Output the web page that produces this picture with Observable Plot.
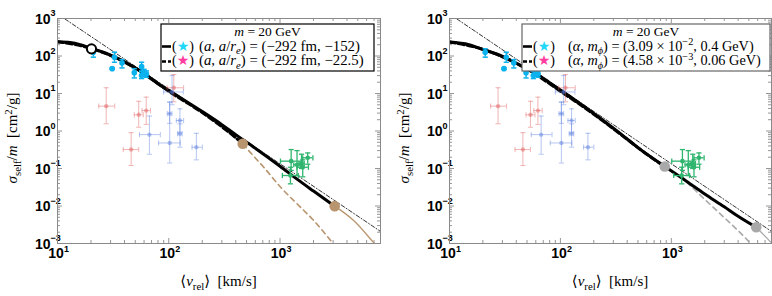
<!DOCTYPE html>
<html><head><meta charset="utf-8">
<script src="https://cdn.jsdelivr.net/npm/d3@7"></script>
<script src="https://cdn.jsdelivr.net/npm/@observablehq/plot@0.6"></script>
<style>
body{margin:0;background:#fff;}
#wrap{position:relative;width:772px;height:296px;overflow:hidden;background:#fff;}
#wrap svg{position:absolute;top:0;overflow:visible;}
</style></head><body><div id="wrap"></div>
<script>
// ---------- axis ticks ----------
const xDecades = [10, 100, 1000];
const xExpLabels = ["1", "2", "3"];
const yDecades = [1e-3, 1e-2, 1e-1, 1, 10, 100, 1000];
const yExpLabels = ["−3", "−2", "−1", "0", "1", "2", "3"];
const minorMantissas = [2, 3, 4, 5, 6, 7, 8, 9];

// ---------- data points ----------
// dwarfs (cyan): v, sigma/m, lower, upper
const dwarfV  = [21, 31, 32.5, 38, 49, 57, 57, 60, 63];
const dwarfS  = [126, 46, 93, 65, 36, 52, 30, 36, 33];
const dwarfLo = [93, 44, 68, 48, 26, 40, 25, 29, 27];
const dwarfHi = [155, 48, 126, 80, 46, 68, 38, 44, 40];

// LSB-like (red): v, s, vlo, vhi, slo, shi
const redV   = [27.4, 53.7, 62.7, 45.9, 111];
const redS   = [4.6, 2.7, 3.5, 0.32, 14.2];
const redVlo = [23.5, 49, 57.6, 39, 96.6];
const redVhi = [32.7, 59, 68.5, 53.7, 136];
const redSlo = [1.56, 1.26, 1.5, 0.12, 6];
const redShi = [14.2, 6.2, 8, 0.9, 32];

// galaxies (blue)
const blueV   = [67, 102, 102, 126, 126, 177, 107];
const blueS   = [0.8, 0.48, 2.9, 1.9, 0.84, 0.37, 11];
const blueVlo = [54.6, 81, 97, 117, 120, 162, 90];
const blueVhi = [84, 127, 107, 136, 132, 200, 135];
const blueSlo = [0.24, 0.14, 1.6, 0.93, 0.37, 0.17, 5];
const blueShi = [2.5, 5.9, 5.9, 3.9, 1.55, 0.87, 30];

// clusters (green)
const greenV   = [1259, 1422, 1600, 1774, 1240, 1560];
const greenS   = [0.157, 0.126, 0.108, 0.193, 0.065, 0.135];
const greenVlo = [1009, 1330, 1420, 1600, 1050, 1480];
const greenVhi = [1580, 1520, 1800, 1975, 1460, 1650];
const greenSlo = [0.089, 0.065, 0.06, 0.13, 0.039, 0.1];
const greenShi = [0.32, 0.30, 0.17, 0.26, 0.108, 0.24];

// ---------- curves, left panel ----------
const lSolidV = [10, 13, 16, 20, 25, 30, 40, 50, 65, 80, 111, 150, 200, 300, 400, 581, 1000, 1422, 2000, 3100];
const lSolidS = [240, 228, 200, 160, 130, 105, 70, 48, 28.5, 18.2, 10, 5.7, 3.3, 1.48, 0.8, 0.37, 0.115, 0.052, 0.025, 0.0099];
const lDashV = [10, 20, 50, 100, 200, 300, 400, 462];
const lDashS = [240, 160, 48, 11.5, 3.1, 1.3, 0.66, 0.455];
const lBrownDashV = [462, 600, 714, 1009, 1500, 2009, 2940, 3050];
const lBrownDashS = [0.455, 0.19, 0.108, 0.032, 0.0098, 0.0041, 0.00108, 0.00095];
const lBrownSolidV = [3100, 4590, 7050, 7400];
const lBrownSolidS = [0.0099, 0.0041, 0.001, 0.00085];
const lMarkV = [462, 3100];
const lMarkS = [0.455, 0.0099];
const openV = [20.2];
const openS = [155];

// ---------- curves, right panel ----------
const rSolidV = [10, 15, 20, 30, 40, 50, 60, 80, 122, 167, 250, 332, 500, 873, 1368, 2000, 3000, 4000, 5820];
const rSolidS = [235, 200, 150, 98, 64, 45, 34, 19.5, 8.3, 4.3, 1.8, 0.95, 0.36, 0.113, 0.046, 0.021, 0.0095, 0.0053, 0.0027];
const rDashV = [10, 20, 50, 100, 200, 400, 600, 873];
const rDashS = [235, 150, 45, 11.5, 2.8, 0.6, 0.24, 0.113];
const rGrayDashV = [873, 1100, 1368, 2000, 3000, 4000, 5300];
const rGrayDashS = [0.113, 0.07, 0.043, 0.015, 0.0049, 0.0022, 0.00095];
const rGraySolidV = [5820, 7350, 8000];
const rGraySolidS = [0.0027, 0.00135, 0.00104];
const rMarkV = [873, 5820];
const rMarkS = [0.113, 0.0027];

// dash-dot reference line (v^-2)
const refV = [10, 8000];
const refS = [1320, 0.0021];

// ---------- colours ----------
const cyan = "#0ab2ee", red = "#e05a5a", blue = "#5b7fe0", green = "#2fb56e";
const brown = "#b8956e", gray = "#a9a9a9", frameCol = "#8a8a8a";

// ---------- helpers ----------
const rows = (V, S) => V.map((v, i) => ({v, s: S[i]}));
const errRows = (V, S, VL, VH, SL, SH) => V.map((v, i) => ({v, s: S[i], vlo: VL ? VL[i] : v, vhi: VH ? VH[i] : v, slo: SL[i], shi: SH[i]}));
const capH = {draw(ctx, size) { const r = Math.sqrt(size / Math.PI); ctx.moveTo(-r, 0); ctx.lineTo(r, 0); }};
const capV = {draw(ctx, size) { const r = Math.sqrt(size / Math.PI); ctx.moveTo(0, -r); ctx.lineTo(0, r); }};

const xMinor = xDecades.flatMap(d => minorMantissas.map(m => m * d)).filter(v => v < 8000);
const yMinor = yDecades.slice(0, -1).flatMap(d => minorMantissas.map(m => m * d));

function errMarks(data, color, op, r, sw, horiz) {
  const o = {stroke: color, strokeOpacity: op, strokeWidth: sw};
  const ms = [
    Plot.ruleX(data, {x: "v", y1: "slo", y2: "shi", ...o}),
    Plot.dot(data, {x: "v", y: "slo", symbol: capH, r: 2.6, fill: "none", ...o}),
    Plot.dot(data, {x: "v", y: "shi", symbol: capH, r: 2.6, fill: "none", ...o})
  ];
  if (horiz) ms.push(
    Plot.ruleY(data, {y: "s", x1: "vlo", x2: "vhi", ...o}),
    Plot.dot(data, {x: "vlo", y: "s", symbol: capV, r: 2.6, fill: "none", ...o}),
    Plot.dot(data, {x: "vhi", y: "s", symbol: capV, r: 2.6, fill: "none", ...o})
  );
  ms.push(Plot.dot(data, {x: "v", y: "s", r, fill: color, fillOpacity: op, stroke: "none"}));
  return ms;
}

function rich(g, x, y, parts, attrs) {
  const t = g.append("text").attr("x", x).attr("y", y).attr("text-anchor", "start");
  for (const k in attrs) t.attr(k, attrs[k]);
  let shift = 0;
  for (const p of parts) {
    const ts = t.append("tspan").text(p.t);
    const target = p.sub ? 3.5 : p.sup ? -5.5 : 0;
    if (target !== shift) { ts.attr("dy", target - shift); shift = target; }
    if (p.sub || p.sup) ts.attr("font-size", p.fs || "0.72em");
    if (p.it) ts.attr("font-style", "italic");
    if (p.fill) ts.attr("fill", p.fill);
    if (p.font) ts.attr("font-family", p.font);
  }
  return t;
}

const W = 386, H = 296, MT = 18, MB = 53;
const serif = "'Liberation Serif', 'DejaVu Serif', serif";
const sans = "'Liberation Sans', Arial, sans-serif";

function panel(cfg) {
  const innerH = H - MT - MB, innerW = W - cfg.mL - cfg.mR;
  const line = (V, S, o) => Plot.line(rows(V, S), {x: "v", y: "s", curve: "monotone-x", clip: true, ...o});
  const tk = {stroke: frameCol, strokeWidth: 0.9};
  const svg = Plot.plot({
    width: W, height: H,
    marginLeft: cfg.mL, marginRight: cfg.mR, marginTop: MT, marginBottom: MB,
    x: {type: "log", domain: [10, 8000], axis: null},
    y: {type: "log", domain: [1e-3, 1e3], axis: null},
    style: {background: "transparent", overflow: "visible"},
    marks: [
      // ticks on all four sides, pointing inward
      Plot.tickX(xDecades, {x: d => d, insetTop: innerH - 5, ...tk}),
      Plot.tickX(xMinor, {x: d => d, insetTop: innerH - 3, ...tk}),
      Plot.tickX(xDecades, {x: d => d, insetBottom: innerH - 5, ...tk}),
      Plot.tickX(xMinor, {x: d => d, insetBottom: innerH - 3, ...tk}),
      Plot.tickY(yDecades, {y: d => d, insetRight: innerW - 5, ...tk}),
      Plot.tickY(yMinor, {y: d => d, insetRight: innerW - 3, ...tk}),
      Plot.tickY(yDecades, {y: d => d, insetLeft: innerW - 5, ...tk}),
      Plot.tickY(yMinor, {y: d => d, insetLeft: innerW - 3, ...tk}),
      // tick labels
      Plot.text(xDecades, {x: d => d, text: () => "10", frameAnchor: "bottom", dy: 14, dx: -1.5, fontSize: 14, fontWeight: "bold", fontFamily: sans, fill: "#000"}),
      Plot.text(xDecades, {x: d => d, text: (d, i) => xExpLabels[i], frameAnchor: "bottom", dy: 8, dx: 6.5, textAnchor: "start", fontSize: 9, fontWeight: "bold", fontFamily: sans, fill: "#000"}),
      Plot.text(yDecades, {y: d => d, text: () => "10", frameAnchor: "left", dx: -7, dy: 1, textAnchor: "end", fontSize: 14, fontWeight: "bold", fontFamily: sans, fill: "#000"}),
      Plot.text(yDecades, {y: d => d, text: (d, i) => yExpLabels[i], frameAnchor: "left", dx: -7, dy: -5, textAnchor: "start", fontSize: 9, fontWeight: "bold", fontFamily: sans, fill: "#000"}),
      // reference line
      line(refV, refS, {stroke: "#000", strokeWidth: 0.8, strokeDasharray: "4,2,1,2", curve: "linear"}),
      // model curves
      line(cfg.tailDashV, cfg.tailDashS, {stroke: cfg.tailCol, strokeWidth: 1.6, strokeDasharray: "5,4"}),
      line(cfg.tailSolidV, cfg.tailSolidS, {stroke: cfg.tailCol, strokeWidth: 1.3}),
      line(cfg.dashV, cfg.dashS, {stroke: "#000", strokeWidth: 3, strokeDasharray: "6,3"}),
      line(cfg.solidV, cfg.solidS, {stroke: "#000", strokeWidth: 3}),
      // data
      ...errMarks(errRows(redV, redS, redVlo, redVhi, redSlo, redShi), red, 0.45, 2.2, 1, true),
      ...errMarks(errRows(blueV, blueS, blueVlo, blueVhi, blueSlo, blueShi), blue, 0.45, 2.2, 1, true),
      ...errMarks(errRows(dwarfV, dwarfS, null, null, dwarfLo, dwarfHi), cyan, 1, 2.8, 1.5, false),
      ...errMarks(errRows(greenV, greenS, greenVlo, greenVhi, greenSlo, greenShi), green, 1, 2.3, 1.3, true),
      // markers at curve transitions
      Plot.dot(rows(cfg.markV, cfg.markS), {x: "v", y: "s", r: 5.3, fill: cfg.tailCol, stroke: "none"}),
      ...(cfg.open ? [Plot.dot(rows(openV, openS), {x: "v", y: "s", r: 4.6, fill: "#fff", stroke: "#000", strokeWidth: 2})] : []),
      Plot.frame({stroke: frameCol, strokeWidth: 1})
    ]
  });
  svg.style.left = cfg.left + "px";
  const g = d3.select(svg);
  const cx = cfg.mL + innerW / 2;
  // x-axis title
  rich(g, cx, 286, [{t: "⟨"}, {t: "v", it: true}, {t: "rel", sub: true}, {t: "⟩  [km/s]"}],
       {"text-anchor": "middle", "font-family": serif, "font-size": 15, fill: "#000"});
  // y-axis title
  rich(g, 0, 0, [{t: "σ", it: true}, {t: "self", sub: true}, {t: "/"}, {t: "m", it: true}, {t: "  [cm"}, {t: "2", sup: true}, {t: "/g]"}],
       {"text-anchor": "middle", "font-family": serif, "font-size": 15, fill: "#000", transform: `translate(${cfg.mL - 40},138) rotate(-90)`});
  // legend
  const L = cfg.legend;
  const lg = g.append("g");
  lg.append("rect").attr("x", L.x).attr("y", 24).attr("width", L.w).attr("height", 47)
    .attr("fill", "#fff").attr("stroke", L.border).attr("stroke-width", 1.2);
  rich(lg, L.x + L.w / 2, 35.5, [{t: "m", it: true}, {t: " = 20 GeV"}],
       {"text-anchor": "middle", "font-family": serif, "font-size": 13.5, fill: "#000"});
  lg.append("line").attr("x1", L.x + 1).attr("x2", L.x + 10).attr("y1", 46.5).attr("y2", 46.5).attr("stroke", "#000").attr("stroke-width", 2.6);
  lg.append("line").attr("x1", L.x + 1).attr("x2", L.x + 10).attr("y1", 61.5).attr("y2", 61.5).attr("stroke", "#000").attr("stroke-width", 2.6).attr("stroke-dasharray", "4,2");
  const star = (c) => ({t: "★", fill: c, font: "'DejaVu Sans', sans-serif"});
  rich(lg, L.x + 11, 50.5, [{t: "("}, star("#22d8f8"), {t: ")"}],
       {"font-family": serif, "font-size": 14, fill: "#000"});
  rich(lg, L.x + 11, 65, [{t: "("}, star("#ff3d9e"), {t: ")"}],
       {"font-family": serif, "font-size": 14, fill: "#000"});
  rich(lg, L.tx, 50.5, L.line1, {"font-family": serif, "font-size": L.fs, fill: "#000"});
  rich(lg, L.tx, 65, L.line2, {"font-family": serif, "font-size": L.fs, fill: "#000"});
  document.getElementById("wrap").appendChild(svg);
}

panel({
  left: 0, mL: 57, mR: 6, open: true,
  solidV: lSolidV, solidS: lSolidS, dashV: lDashV, dashS: lDashS,
  tailDashV: lBrownDashV, tailDashS: lBrownDashS, tailSolidV: lBrownSolidV, tailSolidS: lBrownSolidS,
  markV: lMarkV, markS: lMarkS, tailCol: brown,
  legend: {x: 161, w: 213, border: "#000", tx: 199, fs: 14.8,
    line1: [{t: "("}, {t: "a", it: true}, {t: ", "}, {t: "a", it: true}, {t: "/"}, {t: "r", it: true}, {t: "e", sub: true, it: true}, {t: ") = (−292 fm, −152)"}],
    line2: [{t: "("}, {t: "a", it: true}, {t: ", "}, {t: "a", it: true}, {t: "/"}, {t: "r", it: true}, {t: "e", sub: true, it: true}, {t: ") = (−292 fm, −22.5)"}]}
});
panel({
  left: 386, mL: 63, mR: 1, open: false,
  solidV: rSolidV, solidS: rSolidS, dashV: rDashV, dashS: rDashS,
  tailDashV: rGrayDashV, tailDashS: rGrayDashS, tailSolidV: rGraySolidV, tailSolidS: rGraySolidS,
  markV: rMarkV, markS: rMarkS, tailCol: gray,
  legend: {x: 136, w: 248, border: "#666", tx: 182, fs: 14.3,
    line1: [{t: "("}, {t: "α", it: true}, {t: ", "}, {t: "m", it: true}, {t: "ϕ", sub: true, it: true}, {t: ") = (3.09 × 10"}, {t: "−2", sup: true}, {t: ", 0.4 GeV)"}],
    line2: [{t: "("}, {t: "α", it: true}, {t: ", "}, {t: "m", it: true}, {t: "ϕ", sub: true, it: true}, {t: ") = (4.58 × 10"}, {t: "−3", sup: true}, {t: ", 0.06 GeV)"}]}
});
</script></body></html>
